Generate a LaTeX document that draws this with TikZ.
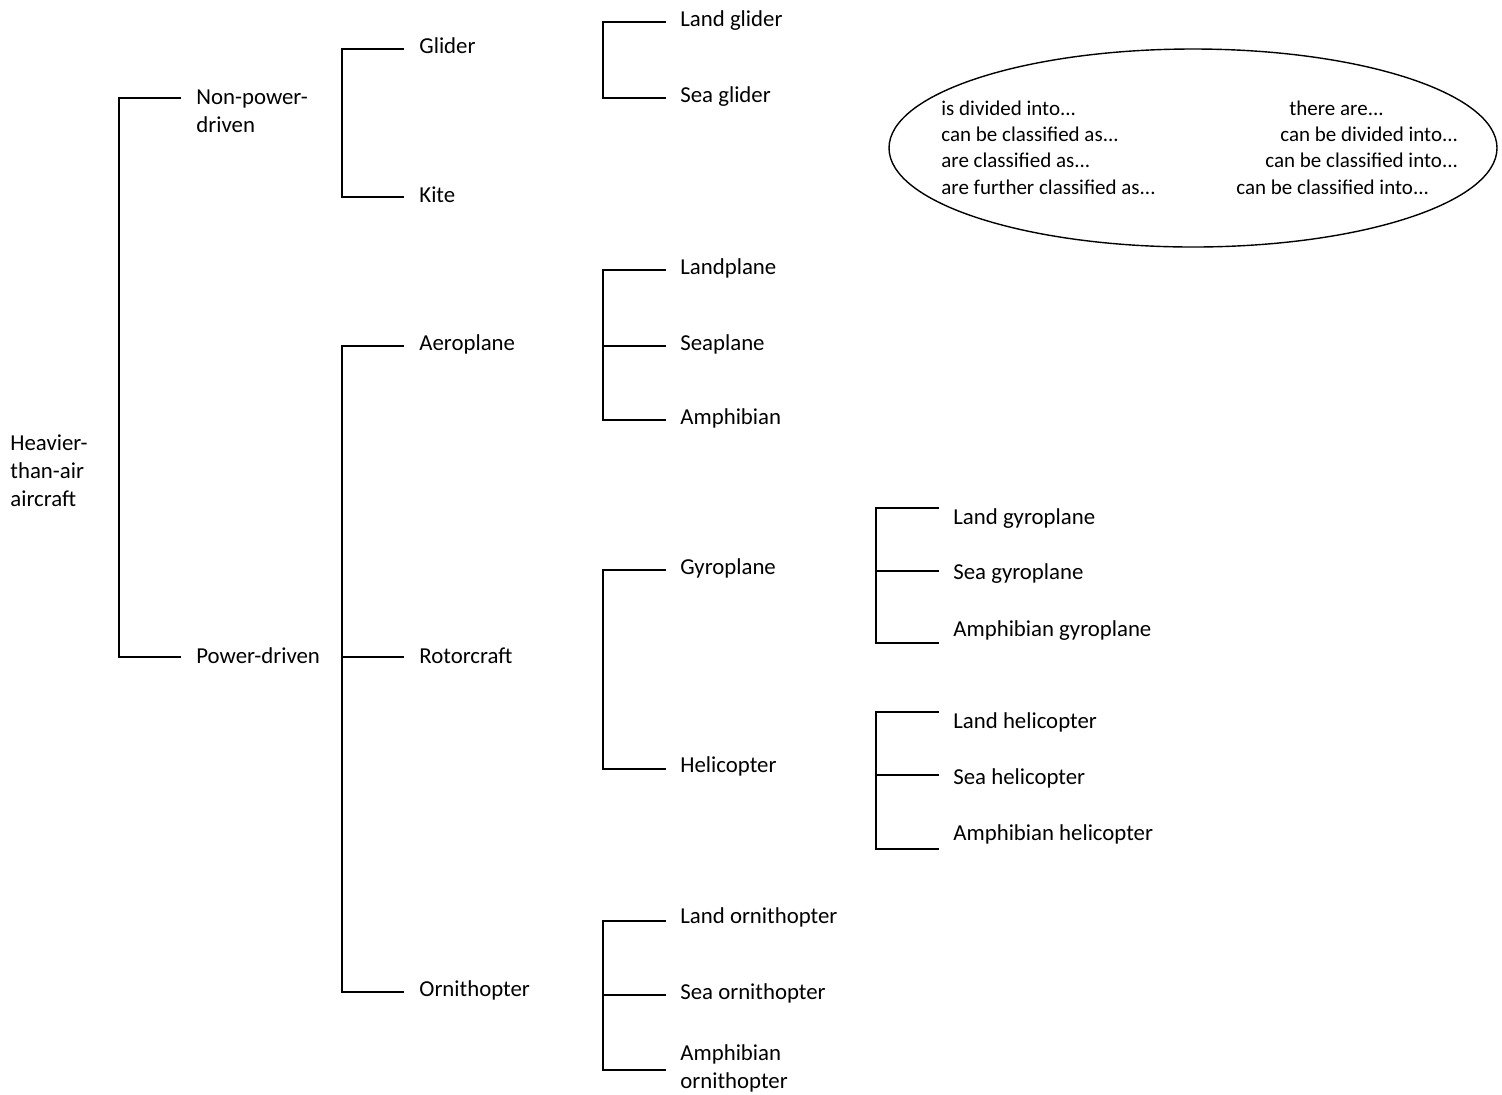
\documentclass[tikz,border=0pt]{standalone}
\usepackage{fontspec}
\setmainfont{Carlito}
\usetikzlibrary{shapes.geometric}

\tikzset{
  item/.style={anchor=west, inner sep=0pt, align=left, yshift=-0.8pt, font=\fontsize{11.4}{14}\selectfont},
  note/.style={anchor=west, inner sep=0pt, yshift=-0.4pt, font=\fontsize{10.5}{13}\selectfont},
  branch/.style={line width=0.8pt}
}

\begin{document}
\begin{tikzpicture}[x=0.5pt, y=-0.5pt]
  \useasboundingbox (0,0) rectangle (1502,1094);
  % labels, column by column
  \node[item] (hta) at (10,469) {Heavier-\\than-air\\aircraft};
  \node[item] (npd) at (196,109.5) {Non-power-\\driven};
  \node[item] (pd) at (196,654) {Power-driven};
  \node[item] (glider) at (419,44) {Glider};
  \node[item] (kite) at (419,193) {Kite};
  \node[item] (aero) at (419,343) {Aeroplane};
  \node[item] (rotor) at (419,654) {Rotorcraft};
  \node[item] (ornith) at (419,989) {Ornithopter};
  \node[item] (landglider) at (680,19) {Land glider};
  \node[item] (seaglider) at (680,95) {Sea glider};
  \node[item] (landplane) at (680,267) {Landplane};
  \node[item] (seaplane) at (680,343) {Seaplane};
  \node[item] (amphib) at (680,417) {Amphibian};
  \node[item] (gyro) at (680,567) {Gyroplane};
  \node[item] (heli) at (680,765) {Helicopter};
  \node[item] (landorn) at (680,916) {Land ornithopter};
  \node[item] (seaorn) at (680,992) {Sea ornithopter};
  \node[item] (amphorn) at (680,1066.5) {Amphibian\\ornithopter};
  \node[item] (landgyro) at (953,517) {Land gyroplane};
  \node[item] (seagyro) at (953,572) {Sea gyroplane};
  \node[item] (amphgyro) at (953,629) {Amphibian gyroplane};
  \node[item] (landheli) at (953,721) {Land helicopter};
  \node[item] (seaheli) at (953,777) {Sea helicopter};
  \node[item] (amphheli) at (953,833) {Amphibian helicopter};

  % line ends of the brackets
  \coordinate (npd-e) at (181,98);
  \coordinate (pd-e) at (181,657);
  \coordinate (glider-e) at (404,49);
  \coordinate (kite-e) at (404,197);
  \coordinate (aero-e) at (404,346);
  \coordinate (rotor-e) at (404,657);
  \coordinate (ornith-e) at (404,992);
  \coordinate (landglider-e) at (666,22);
  \coordinate (seaglider-e) at (666,98);
  \coordinate (landplane-e) at (666,270);
  \coordinate (seaplane-e) at (666,346);
  \coordinate (amphib-e) at (666,420);
  \coordinate (gyro-e) at (666,570);
  \coordinate (heli-e) at (666,769);
  \coordinate (landorn-e) at (666,921);
  \coordinate (seaorn-e) at (666,995);
  \coordinate (amphorn-e) at (666,1070);
  \coordinate (landgyro-e) at (939,508);
  \coordinate (seagyro-e) at (939,571);
  \coordinate (amphgyro-e) at (939,643);
  \coordinate (landheli-e) at (939,712);
  \coordinate (seaheli-e) at (939,775);
  \coordinate (amphheli-e) at (939,849);

  % brackets
  \draw[branch] (npd-e) -- ++(-62,0) |- (pd-e);
  \draw[branch] (glider-e) -- ++(-62,0) |- (kite-e);
  \draw[branch] (aero-e) -- ++(-62,0) |- (ornith-e);
  \draw[branch] (rotor-e) -- ++(-62,0);
  \draw[branch] (landglider-e) -- ++(-63,0) |- (seaglider-e);
  \draw[branch] (landplane-e) -- ++(-63,0) |- (amphib-e);
  \draw[branch] (seaplane-e) -- ++(-63,0);
  \draw[branch] (gyro-e) -- ++(-63,0) |- (heli-e);
  \draw[branch] (landorn-e) -- ++(-63,0) |- (amphorn-e);
  \draw[branch] (seaorn-e) -- ++(-63,0);
  \draw[branch] (landgyro-e) -- ++(-63,0) |- (amphgyro-e);
  \draw[branch] (seagyro-e) -- ++(-63,0);
  \draw[branch] (landheli-e) -- ++(-63,0) |- (amphheli-e);
  \draw[branch] (seaheli-e) -- ++(-63,0);

  % phrases
  \node (legend) [draw, ellipse, line width=0.7pt, inner sep=0pt, minimum width=304pt, minimum height=99pt] at (1193,148) {};
  \node[note] (p1) at (941,107) {is divided into...};
  \node[note] (p2) at (941,133) {can be classified as...};
  \node[note] (p3) at (941,159) {are classified as...};
  \node[note] (p4) at (941,186) {are further classified as...};
  \node[note] (q1) at (1289,107) {there are...};
  \node[note] (q2) at (1280,133) {can be divided into...};
  \node[note] (q3) at (1265,159) {can be classified into...};
  \node[note] (q4) at (1236,186) {can be classified into...};
\end{tikzpicture}
\end{document}
